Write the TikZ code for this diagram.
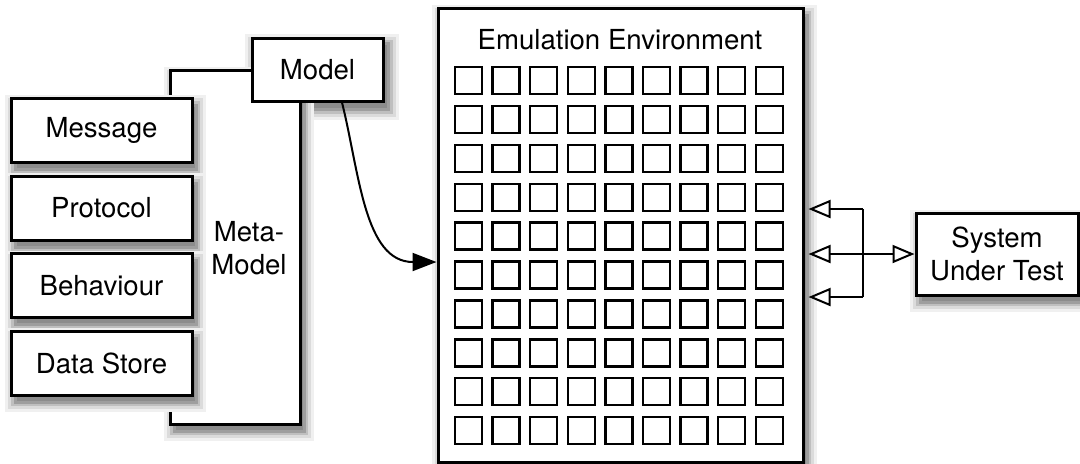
\documentclass[tikz,border=0pt]{standalone}
\usepackage{fontspec}
\setmainfont{TeX Gyre Heros}
\usetikzlibrary{positioning, arrows.meta, backgrounds}
\tikzstyle{shade}=[preaction={draw=black!6, line width=10pt, transform canvas={shift={(2pt,-3.5pt)}}}, preaction={draw=black!14, line width=7pt, transform canvas={shift={(2pt,-3.5pt)}}}, preaction={draw=black!25, line width=4pt, transform canvas={shift={(2pt,-3.5pt)}}}, preaction={draw=black!38, fill=black!45, line width=1.5pt, transform canvas={shift={(2pt,-3.5pt)}}}]
\tikzstyle{flat}=[draw, fill=white, line width=1.5pt, align=center, inner sep=0pt, font=\fontsize{13.8}{16.3}\selectfont]
\tikzstyle{box}=[shade, flat]
\tikzstyle{cell}=[draw, line width=1.2pt, inner sep=0pt, minimum size=13.5pt]
\tikzstyle{lbl}=[align=center, font=\fontsize{13.8}{16.3}\selectfont]
\tikzset{>={Triangle[open, length=11pt, width=9pt]}}

\begin{document}
\begin{tikzpicture}[x=0.5pt, y=-0.5pt]
\useasboundingbox (0,0) rectangle (1080,463);
\node[box, minimum width=65pt, minimum height=177pt] (Meta) at (235,247) {};
\node[lbl] (MetaText) at (249,248) {Meta-\\Model};
\node[flat, minimum width=65.5pt, minimum height=31.5pt] (Model) at (317.5,69.5) {Model};
\begin{pgfonlayer}{background}
\path[shade] (Model.north west) rectangle (Model.south east);
\end{pgfonlayer}
\node[box, minimum width=90.5pt, minimum height=32pt] (B1) at (101.5,130) {Message};
\node[box, minimum width=90.5pt, minimum height=32pt] (B2) at (101.5,208) {Protocol};
\node[box, minimum width=90.5pt, minimum height=32pt] (B3) at (101.5,285.5) {Behaviour};
\node[box, minimum width=90.5pt, minimum height=32pt] (B4) at (101.5,363) {Data Store};
\node[box, minimum width=182.5pt, minimum height=227pt] (Emu) at (620.5,235) {};
\node[lbl] (EmuText) at (620,40) {Emulation Environment};
\foreach \i in {0,...,8}
  \foreach \j in {0,...,9}
    \node[cell] (C-\i-\j) at (468.5+37.6*\i, 80.5+38.9*\j) {};
\node[box, minimum width=81pt, minimum height=41pt] (SUT) at (997,254) {System\\Under Test};
% model feeds the emulation
\draw[line width=1pt, -{Triangle[length=12pt, width=9pt]}] ([xshift=12.25pt]Model.south) to[out=-76, in=180] ([yshift=-13.5pt]Emu.west);
% links to the system under test
\coordinate (J0) at (863,209);
\coordinate (J1) at (863,297);
\draw[line width=1pt] (J0) -- (J1);
\draw[line width=1pt, ->, shorten >=2pt] (J0) -- (Emu.east |- J0);
\draw[line width=1pt, ->, shorten >=2pt] (J1) -- (Emu.east |- J1);
\draw[line width=1pt, <->, shorten <=2pt] (Emu.east |- SUT.west) -- (SUT.west);
\end{tikzpicture}
\end{document}
